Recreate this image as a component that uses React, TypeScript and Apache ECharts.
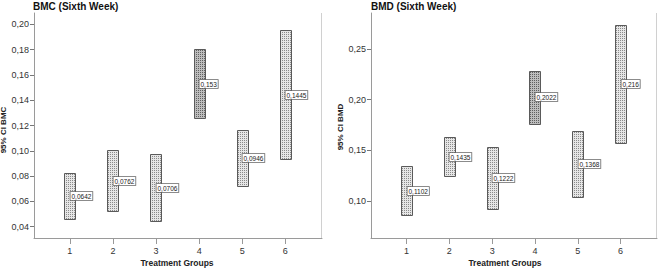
import React, { useEffect, useRef } from "react";
import * as echarts from "echarts";

const groups = [1, 2, 3, 4, 5, 6];
const bmcLower = [0.046, 0.0521, 0.0442, 0.1255, 0.0725, 0.0935];
const bmcUpper = [0.0822, 0.1004, 0.0975, 0.1802, 0.1168, 0.1957];
const bmcMean = [0.0642, 0.0762, 0.0706, 0.153, 0.0946, 0.1445];
const bmdLower = [0.0855, 0.1242, 0.0915, 0.176, 0.104, 0.1575];
const bmdUpper = [0.1344, 0.1628, 0.1529, 0.2282, 0.1688, 0.2741];
const bmdMean = [0.1102, 0.1435, 0.1222, 0.2022, 0.1368, 0.216];
const bmcTicks = [0.04, 0.06, 0.08, 0.1, 0.12, 0.14, 0.16, 0.18, 0.2];
const bmdTicks = [0.1, 0.15, 0.2, 0.25];

const FONT = "Liberation Sans, Arial, sans-serif";

function fmt(v: number, digits: number) {
  return v.toFixed(digits).replace(".", ",");
}

function makePattern(dot: string, bg: string) {
  const c = document.createElement("canvas");
  c.width = 2;
  c.height = 2;
  const ctx = c.getContext("2d")!;
  ctx.fillStyle = bg;
  ctx.fillRect(0, 0, 2, 2);
  ctx.fillStyle = dot;
  ctx.fillRect(0, 0, 1, 1);
  return { image: c.toDataURL(), repeat: "repeat", imageWidth: 2, imageHeight: 2 } as any;
}

function ciSeries(idx: number, lower: number[], upper: number[], mean: number[], light: any, dark: any) {
  const data = groups.map((g, i) => [g, lower[i], upper[i], mean[i]]);
  return {
    type: "custom",
    xAxisIndex: idx,
    yAxisIndex: idx,
    silent: true,
    clip: false,
    data,
    renderItem: (params: any, api: any) => {
      const x = api.value(0);
      const lo = api.value(1);
      const hi = api.value(2);
      const m = api.value(3);
      const pTL = api.coord([x - 0.128, hi]);
      const pBR = api.coord([x + 0.128, lo]);
      const pM = api.coord([x, m]);
      const isDark = params.dataIndex === 3;
      const label = String(m).replace(".", ",");
      return {
        type: "group",
        children: [
          {
            type: "rect",
            shape: {
              x: Math.round(pTL[0]) + 0.5,
              y: Math.round(pTL[1]) + 0.5,
              width: Math.round(pBR[0] - pTL[0]),
              height: Math.round(pBR[1] - pTL[1]),
            },
            style: {
              fill: isDark ? dark : light,
              stroke: "#5a5a5a",
              lineWidth: 1,
            },
          },
          {
            type: "text",
            x: Math.round(pM[0]) + 0.5,
            y: Math.round(pM[1]),
            style: {
              text: label,
              fontSize: 6.5,
              fontFamily: FONT,
              fill: "#222",
              align: "left",
              verticalAlign: "middle",
              backgroundColor: "#ffffff",
              borderColor: "#666666",
              borderWidth: 0.8,
              padding: [1, 1, 0, 1],
            },
          },
        ],
      };
    },
  };
}

function yAxis(idx: number, min: number, max: number, ticks: number[]) {
  return {
    type: "value",
    gridIndex: idx,
    min,
    max,
    splitLine: { show: false },
    axisLine: { show: true, lineStyle: { color: "#9a9a9a", width: 1 } },
    axisTick: { show: true, length: 4, lineStyle: { color: "#777" }, customValues: ticks },
    axisLabel: {
      fontSize: 9,
      fontFamily: FONT,
      color: "#333",
      margin: 5,
      customValues: ticks,
      formatter: (v: number) => fmt(v, 2),
    },
  };
}

function xAxis(idx: number) {
  return {
    type: "value",
    gridIndex: idx,
    min: 0.17,
    max: 6.85,
    splitLine: { show: false },
    axisLine: { show: true, onZero: false, lineStyle: { color: "#9a9a9a", width: 1 } },
    axisTick: { show: true, length: 6, lineStyle: { color: "#999" }, customValues: groups },
    axisLabel: {
      fontSize: 9,
      fontFamily: FONT,
      color: "#333",
      margin: 8,
      customValues: groups,
      formatter: (v: number) => String(v),
    },
  };
}

export default function App() {
  const ref = useRef<HTMLDivElement>(null);
  useEffect(() => {
    document.body.style.margin = "0";
    const light = makePattern("#8a8a8a", "#e6e6e6");
    const dark = makePattern("#606060", "#bdbdbd");
    const chart = echarts.init(ref.current!, null, { renderer: "svg" });
    chart.setOption({
      animation: false,
      backgroundColor: "#ffffff",
      grid: [
        { left: 34, top: 13, width: 288, height: 225 },
        { left: 371, top: 13, width: 286, height: 225 },
      ],
      xAxis: [xAxis(0), xAxis(1)],
      yAxis: [
        yAxis(0, 0.031, 0.209, bmcTicks),
        yAxis(1, 0.0633, 0.2857, bmdTicks),
      ],
      series: [
        ciSeries(0, bmcLower, bmcUpper, bmcMean, light, dark),
        ciSeries(1, bmdLower, bmdUpper, bmdMean, light, dark),
      ],
      graphic: [
        { type: "line", shape: { x1: 321.5, y1: 13, x2: 321.5, y2: 238 }, style: { stroke: "#d0d0d0", lineWidth: 1 }, silent: true },
        { type: "line", shape: { x1: 656.5, y1: 13, x2: 656.5, y2: 238 }, style: { stroke: "#d0d0d0", lineWidth: 1 }, silent: true },
        { type: "text", x: 33, y: 1, style: { text: "BMC (Sixth Week)", fontSize: 10, fontWeight: "bold", fontFamily: FONT, fill: "#111" } },
        { type: "text", x: 371, y: 1, style: { text: "BMD (Sixth Week)", fontSize: 10, fontWeight: "bold", fontFamily: FONT, fill: "#111" } },
        { type: "text", x: 177, y: 263, style: { text: "Treatment Groups", fontSize: 8.5, fontWeight: "bold", fontFamily: FONT, fill: "#222", align: "center", verticalAlign: "middle" } },
        { type: "text", x: 505, y: 263, style: { text: "Treatment Groups", fontSize: 8.5, fontWeight: "bold", fontFamily: FONT, fill: "#222", align: "center", verticalAlign: "middle" } },
        { type: "text", x: 3.5, y: 130, rotation: Math.PI / 2, style: { text: "95% CI BMC", fontSize: 8, fontWeight: "bold", fontFamily: FONT, fill: "#222", align: "center", verticalAlign: "middle" } },
        { type: "text", x: 340, y: 127, rotation: Math.PI / 2, style: { text: "95% CI BMD", fontSize: 8, fontWeight: "bold", fontFamily: FONT, fill: "#222", align: "center", verticalAlign: "middle" } },
      ],
    });
    return () => chart.dispose();
  }, []);
  return <div ref={ref} style={{ position: "absolute", left: 0, top: 0, width: 658, height: 268 }} />;
}
